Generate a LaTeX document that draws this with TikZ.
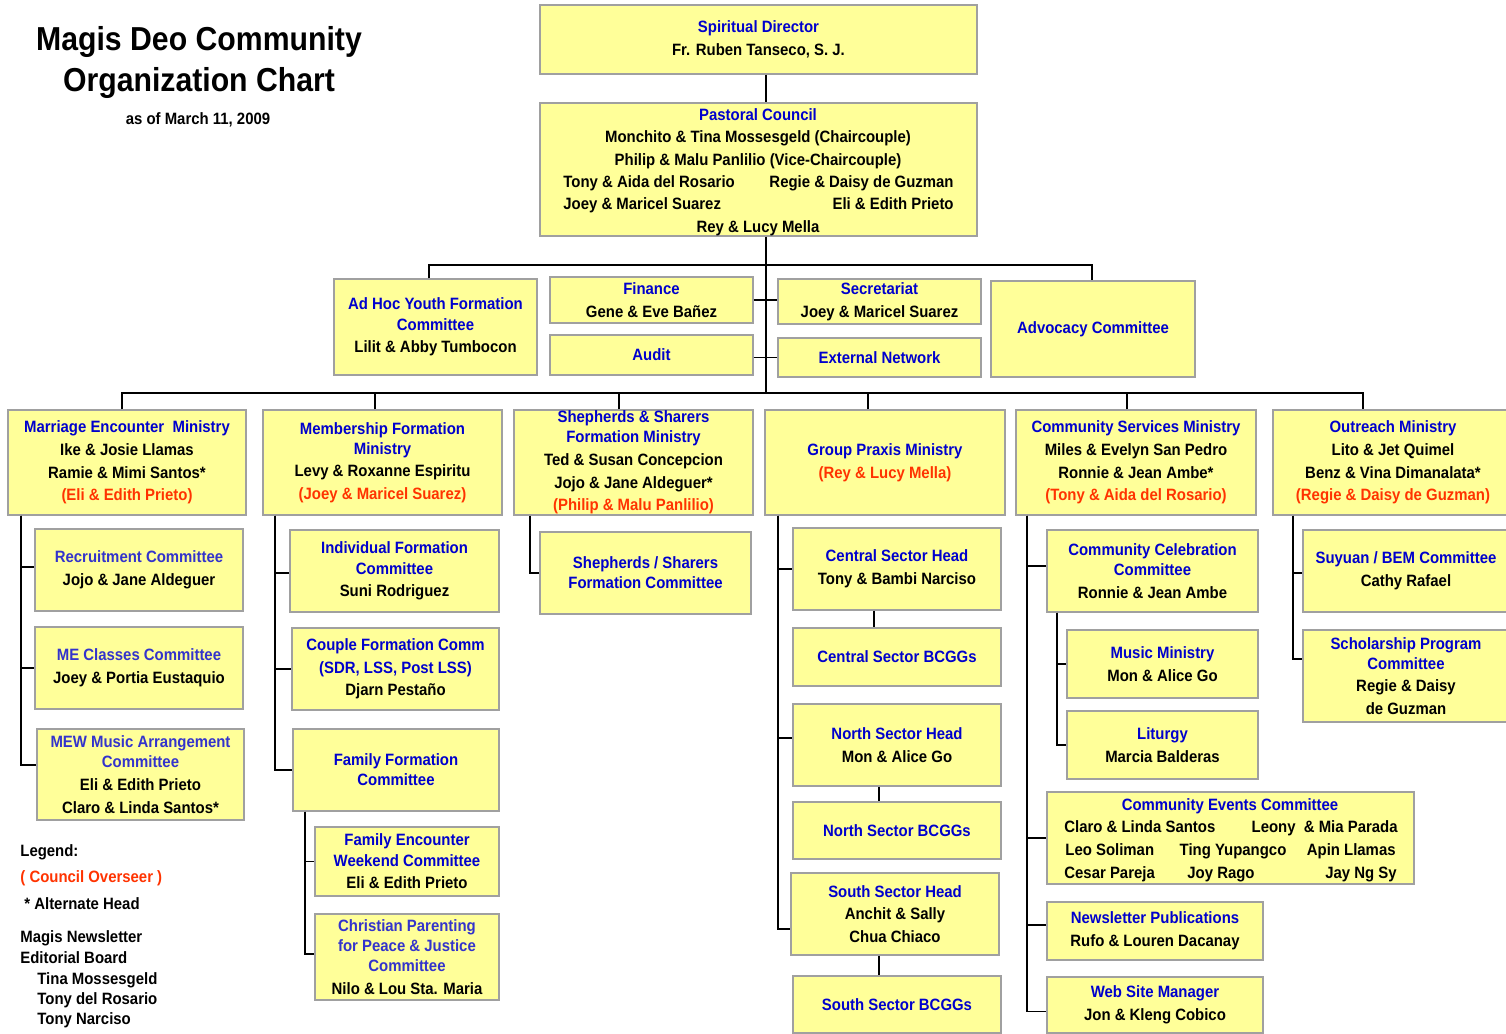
\documentclass[tikz,border=0pt]{standalone}
\usepackage{fontspec}
\setmainfont{Liberation Sans}[FakeStretch=0.91]
\definecolor{tblue}{RGB}{0,0,205}
\definecolor{tlblue}{RGB}{51,51,204}
\definecolor{tred}{RGB}{255,51,0}
\definecolor{boxfill}{RGB}{255,255,153}
\definecolor{boxline}{RGB}{160,160,160}
\newcommand\tb[1]{\textcolor{tblue}{#1}}
\newcommand\tl[1]{\textcolor{tlblue}{#1}}
\newcommand\tr[1]{\textcolor{tred}{#1}}
\newcommand\nl{\\[-1.2pt]}
\newcommand\bodyfont{\bfseries\fontsize{8.2}{11.3}\selectfont}
\newcommand\bx[6]{\node[box,minimum width={(#4-#2)*0.5pt},minimum height={(#5-#3)*0.5pt}] (#1) at ({(#2+#4)/2},{(#3+#5)/2}) {#6};}
\tikzset{
  box/.style={draw=boxline,fill=boxfill,line width=0.7pt,inner sep=0pt,align=center,font=\bodyfont,text=black},
  txt/.style={inner sep=0pt,font=\bodyfont,text=black,text height=6pt,text depth=1.7pt,yshift=-0.7pt},
  ttl/.style={inner sep=0pt,font=\bfseries\fontsize{16.6}{20}\selectfont,text=black},
  ln/.style={draw=black,line width=0.7pt}
}
\begin{document}
\begin{tikzpicture}[x=0.5pt,y=-0.5pt]
\useasboundingbox (0,0) rectangle (1506,1034);
\fill[white] (0,0) rectangle (1506,1034);

% title
\node[ttl] (t1) at (199,42) {Magis Deo Community};
\node[ttl] (t2) at (199,83) {Organization Chart};
\node[txt] (t3) at (198,119) {as of March 11, 2009};

% top
\bx{sd}{540}{5}{977}{74}{\tb{Spiritual Director}\\Fr. Ruben Tanseco, S. J.}
\bx{pc}{540}{103}{977}{236}{}
\node[txt] (pc1) at (758,115) {\tb{Pastoral Council}};
\node[txt] (pc2) at (758,137) {Monchito \& Tina Mossesgeld (Chaircouple)};
\node[txt] (pc3) at (758,160) {Philip \& Malu Panlilio (Vice-Chaircouple)};
\node[txt,anchor=west] (pc4) at (563,182) {Tony \& Aida del Rosario};
\node[txt,anchor=east] (pc5) at (954,182) {Regie \& Daisy de Guzman};
\node[txt,anchor=west] (pc6) at (563,204) {Joey \& Maricel Suarez};
\node[txt,anchor=east] (pc7) at (954,204) {Eli \& Edith Prieto};
\node[txt] (pc8) at (758,227) {Rey \& Lucy Mella};

\bx{adhoc}{334}{279}{537}{375}{\tb{Ad Hoc Youth Formation}\nl\tb{Committee}\\Lilit \& Abby Tumbocon}
\bx{fin}{550}{277}{753}{323}{\tb{Finance}\\Gene \& Eve Bañez}
\bx{aud}{550}{335}{753}{375}{\tb{Audit}}
\bx{sec}{778}{279}{981}{324}{\tb{Secretariat}\\Joey \& Maricel Suarez}
\bx{ext}{778}{338}{981}{377}{\tb{External Network}}
\bx{adv}{991}{281}{1195}{377}{\tb{Advocacy Committee}}

% ministries
\bx{me}{8}{410}{246}{515}{\tb{Marriage Encounter\ \ Ministry}\\Ike \& Josie Llamas\\Ramie \& Mimi Santos*\\\tr{(Eli \& Edith Prieto)}}
\bx{mf}{263}{410}{502}{515}{\tb{Membership Formation}\nl\tb{Ministry}\\Levy \& Roxanne Espiritu\\\tr{(Joey \& Maricel Suarez)}}
\bx{ss}{514}{410}{753}{515}{\tb{Shepherds \& Sharers}\nl\tb{Formation Ministry}\\Ted \& Susan Concepcion\\Jojo \& Jane Aldeguer*\\\tr{(Philip \& Malu Panlilio)}}
\bx{gp}{765}{410}{1005}{515}{\tb{Group Praxis Ministry}\\\tr{(Rey \& Lucy Mella)}}
\bx{cs}{1016}{410}{1256}{515}{\tb{Community Services Ministry}\\Miles \& Evelyn San Pedro\\Ronnie \& Jean Ambe*\\\tr{(Tony \& Aida del Rosario)}}
\bx{out}{1273}{410}{1513}{515}{\tb{Outreach Ministry}\\Lito \& Jet Quimel\\Benz \& Vina Dimanalata*\\\tr{(Regie \& Daisy de Guzman)}}

% marriage encounter children
\bx{recr}{35}{529}{243}{611}{\tl{Recruitment Committee}\\Jojo \& Jane Aldeguer}
\bx{mec}{35}{627}{243}{709}{\tl{ME Classes Committee}\\Joey \& Portia Eustaquio}
\bx{mew}{37}{729}{244}{820}{\tl{MEW Music Arrangement}\nl\tl{Committee}\\Eli \& Edith Prieto\\Claro \& Linda Santos*}

% membership formation children
\bx{indf}{290}{530}{499}{612}{\tb{Individual Formation}\nl\tb{Committee}\\Suni Rodriguez}
\bx{cpl}{292}{628}{499}{710}{\tb{Couple Formation Comm}\\\tb{(SDR, LSS, Post LSS)}\\Djarn Pestaño}
\bx{fam}{293}{729}{499}{811}{\tb{Family Formation}\nl\tb{Committee}}
\bx{few}{315}{827}{499}{896}{\tb{Family Encounter}\nl\tb{Weekend Committee}\\Eli \& Edith Prieto}
\bx{cpp}{315}{914}{499}{1000}{\tl{Christian Parenting}\nl\tl{for Peace \& Justice}\nl\tl{Committee}\\Nilo \& Lou Sta. Maria}

% shepherds
\bx{ssc}{540}{532}{751}{614}{\tb{Shepherds / Sharers}\nl\tb{Formation Committee}}

% group praxis
\bx{csh}{793}{528}{1001}{610}{\tb{Central Sector Head}\\Tony \& Bambi Narciso}
\bx{csb}{793}{628}{1001}{686}{\tb{Central Sector BCGGs}}
\bx{nsh}{793}{704}{1001}{786}{\tb{North Sector Head}\\Mon \& Alice Go}
\bx{nsb}{793}{802}{1001}{859}{\tb{North Sector BCGGs}}
\bx{ssh}{791}{873}{999}{955}{\tb{South Sector Head}\\Anchit \& Sally\\Chua Chiaco}
\bx{ssb}{793}{976}{1001}{1033}{\tb{South Sector BCGGs}}

% community services
\bx{ccc}{1047}{530}{1258}{612}{\tb{Community Celebration}\nl\tb{Committee}\\Ronnie \& Jean Ambe}
\bx{mus}{1067}{630}{1258}{698}{\tb{Music Ministry}\\Mon \& Alice Go}
\bx{lit}{1067}{711}{1258}{779}{\tb{Liturgy}\\Marcia Balderas}
\bx{cev}{1047}{792}{1414}{884}{}
\node[txt] (ce0) at (1230,805) {\tb{Community Events Committee}};
\node[txt,anchor=west] (ce1) at (1064,827) {Claro \& Linda Santos};
\node[txt,anchor=east] (ce2) at (1398,827) {Leony\ \ \& Mia Parada};
\node[txt,anchor=west] (ce3) at (1065,850) {Leo Soliman};
\node[txt] (ce4) at (1233,850) {Ting Yupangco};
\node[txt,anchor=east] (ce5) at (1396,850) {Apin Llamas};
\node[txt,anchor=west] (ce6) at (1064,873) {Cesar Pareja};
\node[txt] (ce7) at (1221,873) {Joy Rago};
\node[txt,anchor=east] (ce8) at (1397,873) {Jay Ng Sy};
\bx{nwl}{1047}{902}{1263}{960}{\tb{Newsletter Publications}\\Rufo \& Louren Dacanay}
\bx{web}{1047}{977}{1263}{1033}{\tb{Web Site Manager}\\Jon \& Kleng Cobico}

% outreach
\bx{suy}{1303}{530}{1509}{612}{\tb{Suyuan / BEM Committee}\\Cathy Rafael}
\bx{sch}{1303}{630}{1509}{722}{\tb{Scholarship Program}\nl\tb{Committee}\\Regie \& Daisy\\de Guzman}

% legend
\node[txt,anchor=west] (lg1) at (20,851) {Legend:};
\node[txt,anchor=west] (lg2) at (20,877) {\tr{( Council Overseer )}};
\node[txt,anchor=west] (lg3) at (24,904) {* Alternate Head};
\node[txt,anchor=west] (lg4) at (20,937) {Magis Newsletter};
\node[txt,anchor=west] (lg5) at (20,958) {Editorial Board};
\node[txt,anchor=west] (lg6) at (37,979) {Tina Mossesgeld};
\node[txt,anchor=west] (lg7) at (37,999) {Tony del Rosario};
\node[txt,anchor=west] (lg8) at (37,1019) {Tony Narciso};

% connectors top
\coordinate (bus1) at (766,265);
\coordinate (bus2) at (766,393);
\draw[ln] (sd.south -| bus1) -- (pc.north -| bus1);
\draw[ln] (pc.south -| bus1) -- (bus2);
\draw[ln] (adhoc.north -| 429,0) |- (bus1) -| (adv.north -| 1092,0);
\draw[ln] (fin.east) -- (fin.east -| sec.west);
\draw[ln] (ext.west -| aud.east) -- (ext.west);
\draw[ln] (me.north -| 122,0) |- (bus2) -| (out.north -| 1363,0);
\draw[ln] (mf.north -| 375,0) -- ++(0,-17);
\draw[ln] (ss.north -| 619,0) -- ++(0,-17);
\draw[ln] (gp.north -| 868,0) -- ++(0,-17);
\draw[ln] (cs.north -| 1127,0) -- ++(0,-17);

% branches
\draw[ln] (me.south -| 21,0) |- ([yshift=1.5pt]recr.west);
\draw[ln] (me.south -| 21,0) |- (mec.west);
\draw[ln] (me.south -| 21,0) |- ([yshift=4.75pt]mew.west);
\draw[ln] (mf.south -| 275,0) |- ([yshift=-1pt]indf.west);
\draw[ln] (mf.south -| 275,0) |- (cpl.west);
\draw[ln] (mf.south -| 275,0) |- (fam.west);
\draw[ln] (fam.south -| 305,0) |- (few.west);
\draw[ln] (fam.south -| 305,0) |- ([yshift=1.5pt]cpp.west);
\draw[ln] (ss.south -| 530,0) |- (ssc.west);
\draw[ln] (gp.south -| 778,0) |- (csh.west);
\draw[ln] (gp.south -| 778,0) |- ([yshift=3.5pt]nsh.west);
\draw[ln] (gp.south -| 778,0) |- ([yshift=-7.5pt]ssh.west);
\draw[ln] (csh.south -| 874,0) -- (csb.north -| 874,0);
\draw[ln] (nsh.south -| 879,0) -- (nsb.north -| 879,0);
\draw[ln] (ssh.south -| 879,0) -- (ssb.north -| 879,0);
\draw[ln] (cs.south -| 1027,0) |- ([yshift=2.5pt]ccc.west);
\draw[ln] (cs.south -| 1027,0) |- (cev.west);
\draw[ln] (cs.south -| 1027,0) |- ([yshift=3pt]nwl.west);
\draw[ln] (cs.south -| 1027,0) |- ([yshift=-3.25pt]web.west);
\draw[ln] (ccc.south -| 1057,0) |- (mus.west);
\draw[ln] (ccc.south -| 1057,0) |- (lit.west);
\draw[ln] (out.south -| 1293,0) |- ([yshift=-1pt]suy.west);
\draw[ln] (out.south -| 1293,0) |- ([yshift=8.5pt]sch.west);
\end{tikzpicture}
\end{document}
